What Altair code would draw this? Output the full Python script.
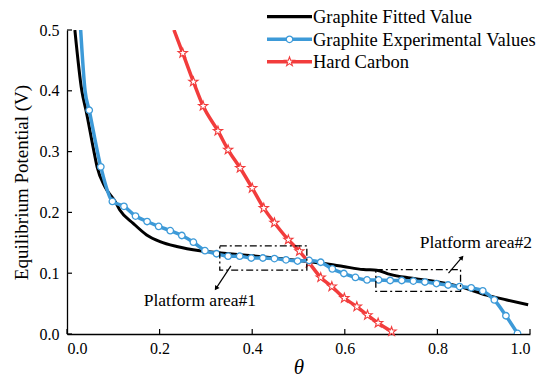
import altair as alt
import pandas as pd

# ---- data ----
fit_x = [0.017, 0.032, 0.041, 0.059, 0.065, 0.082, 0.104, 0.114, 0.143, 0.172, 0.201, 0.237,
         0.287, 0.338, 0.438, 0.500, 0.554, 0.597, 0.640, 0.669, 0.698, 0.741, 0.798, 0.849,
         0.906, 0.950, 0.996]
fit_y = [0.500, 0.400, 0.368, 0.297, 0.275, 0.242, 0.218, 0.204, 0.182, 0.163, 0.152, 0.144,
         0.137, 0.133, 0.126, 0.121, 0.116, 0.111, 0.106, 0.105, 0.098, 0.092, 0.086, 0.078,
         0.064, 0.056, 0.048]

exp_x = [0.048, 0.073, 0.098, 0.123, 0.148, 0.173, 0.198, 0.223, 0.248, 0.273, 0.298, 0.323,
         0.348, 0.373, 0.398, 0.423, 0.448, 0.473, 0.498, 0.523, 0.548, 0.573, 0.598, 0.623,
         0.648, 0.673, 0.698, 0.723, 0.748, 0.773, 0.798, 0.823, 0.848, 0.873, 0.898, 0.923,
         0.948, 0.973]
exp_y = [0.368, 0.275, 0.218, 0.210, 0.194, 0.185, 0.177, 0.170, 0.162, 0.151, 0.137, 0.132,
         0.128, 0.128, 0.125, 0.125, 0.124, 0.122, 0.120, 0.121, 0.118, 0.107, 0.0995, 0.093,
         0.089, 0.089, 0.088, 0.088, 0.087, 0.0855, 0.083, 0.0806, 0.078, 0.076, 0.071, 0.056,
         0.030, 0.001]
exp_lead_x = [0.0295, 0.039]
exp_lead_y = [0.500, 0.400]

hc_x = [0.250, 0.273, 0.294, 0.326, 0.348, 0.374, 0.400, 0.425, 0.448, 0.478, 0.502, 0.523,
        0.548, 0.572, 0.599, 0.626, 0.649, 0.672, 0.701]
hc_y = [0.462, 0.415, 0.375, 0.334, 0.303, 0.273, 0.240, 0.207, 0.183, 0.155, 0.136, 0.117,
        0.093, 0.078, 0.059, 0.045, 0.031, 0.018, 0.004]
hc_lead_x = [0.231]
hc_lead_y = [0.500]

x_ticks = [0.0, 0.2, 0.4, 0.6, 0.8, 1.0]
y_ticks = [0.0, 0.1, 0.2, 0.3, 0.4, 0.5]

box_x1 = [0.330, 0.667]
box_x2 = [0.518, 0.850]
box_y1 = [0.105, 0.070]
box_y2 = [0.145, 0.106]
arrow_x1 = [0.354, 0.824]
arrow_y1 = [0.112, 0.100]
arrow_x2 = [0.322, 0.853]
arrow_y2 = [0.075, 0.126]
arrow_angle = [214, 40]
note_text = ["Platform area#1", "Platform area#2"]
note_x = [0.287, 0.883]
note_y = [0.054, 0.150]

legend_labels = ["Graphite Fitted Value", "Graphite Experimental Values", "Hard Carbon"]

BLUE = "#3d9ad8"
RED = "#f23c3c"
FONT = "'Times New Roman', 'Liberation Serif', 'DejaVu Serif', serif"
W, H = 463, 304
STAR = ("M0,-1L0.235,-0.324L0.951,-0.309L0.38,0.124L0.588,0.809L0,0.4L-0.588,0.809"
        "L-0.38,0.124L-0.951,-0.309L-0.235,-0.324Z")

xs = alt.Scale(domain=[0, 1], nice=False)
ys = alt.Scale(domain=[0, 0.5], nice=False)

fit_df = pd.DataFrame({"x": fit_x, "y": fit_y})
exp_df = pd.DataFrame({"x": exp_x, "y": exp_y})
exp_line_df = pd.DataFrame({"x": exp_lead_x + exp_x, "y": exp_lead_y + exp_y})
hc_df = pd.DataFrame({"x": hc_x, "y": hc_y})
hc_line_df = pd.DataFrame({"x": hc_lead_x + hc_x, "y": hc_lead_y + hc_y})

X = alt.X("x:Q", scale=xs, title="θ",
          axis=alt.Axis(values=x_ticks, format=".1f", ticks=False, grid=False,
                        labelPadding=6, labelFont=FONT, labelFontSize=16, labelColor="black",
                        domainColor="black", domainWidth=1.3,
                        titleFontStyle="italic", titleFontSize=21, titleColor="black",
                        titlePadding=0, titleFont=FONT, titleFontWeight="normal"))
Y = alt.Y("y:Q", scale=ys, title="Equilibrium Potential (V)",
          axis=alt.Axis(values=y_ticks, format=".1f", ticks=False, grid=False,
                        labelPadding=8, labelFont=FONT, labelFontSize=16, labelColor="black",
                        domainColor="black", domainWidth=1.3,
                        titleFontSize=19, titlePadding=8, titleColor="black",
                        titleFont=FONT, titleFontWeight="normal"))

fit_line = alt.Chart(fit_df).mark_line(color="black", strokeWidth=3, interpolate="monotone",
                                       clip=True).encode(x=X, y=Y)
exp_line = alt.Chart(exp_line_df).mark_line(color=BLUE, strokeWidth=3.5, interpolate="monotone",
                                            clip=True).encode(x="x:Q", y="y:Q")
exp_pts = alt.Chart(exp_df).mark_point(shape="circle", size=42, filled=True, fill="white",
                                       stroke=BLUE, strokeWidth=1.3, opacity=1,
                                       clip=True).encode(x="x:Q", y="y:Q")
hc_line = alt.Chart(hc_line_df).mark_line(color=RED, strokeWidth=3.5, interpolate="monotone",
                                          clip=True).encode(x="x:Q", y="y:Q")
hc_pts = alt.Chart(hc_df).mark_point(shape=STAR, size=95, filled=True, fill="white", stroke=RED,
                                     strokeWidth=1.1, opacity=1).encode(x="x:Q", y="y:Q")

# inward ticks
xt_df = pd.DataFrame({"x": x_ticks})
yt_df = pd.DataFrame({"y": y_ticks})
x_tick_marks = alt.Chart(xt_df).mark_rule(color="black", strokeWidth=1.2).encode(
    x="x:Q", y=alt.value(H), y2=alt.value(H - 5))
y_tick_marks = alt.Chart(yt_df).mark_rule(color="black", strokeWidth=1.2).encode(
    y="y:Q", x=alt.value(0), x2=alt.value(5))

ann_df = pd.DataFrame({"x1": box_x1, "x2": box_x2, "y1": box_y1, "y2": box_y2})
boxes = alt.Chart(ann_df).mark_rect(fill=None, filled=False, stroke="black", strokeWidth=1.3,
                                    strokeDash=[7, 3, 2, 3]).encode(
    x="x1:Q", x2="x2:Q", y="y1:Q", y2="y2:Q")

arr_df = pd.DataFrame({"x1": arrow_x1, "y1": arrow_y1, "x2": arrow_x2, "y2": arrow_y2,
                       "ang": arrow_angle})
arrows = alt.Chart(arr_df).mark_rule(color="black", strokeWidth=1.2).encode(
    x="x1:Q", y="y1:Q", x2="x2:Q", y2="y2:Q")
heads = alt.Chart(arr_df).mark_point(shape="triangle-up", size=28, filled=True, color="black",
                                     opacity=1).encode(
    x="x2:Q", y="y2:Q", angle=alt.Angle("ang:Q", scale=None))

note_df = pd.DataFrame({"t": note_text, "x": note_x, "y": note_y})
notes = alt.Chart(note_df).mark_text(font=FONT, fontSize=17.5, color="black",
                                     baseline="middle", align="center").encode(
    x="x:Q", y="y:Q", text="t:N")

# legend
leg_rows = [-13.3, 9.3, 31.7]
leg_colors = ["black", BLUE, RED]
legend_layers = []
for i, (lab, col) in enumerate(zip(legend_labels, leg_colors)):
    ldf = pd.DataFrame({"t": [lab]})
    legend_layers.append(alt.Chart(ldf).mark_rule(color=col, strokeWidth=3.5 if i else 3.2).encode(
        x=alt.value(200), x2=alt.value(245), y=alt.value(leg_rows[i])))
    legend_layers.append(alt.Chart(ldf).mark_text(font=FONT, fontSize=18.5, align="left",
                                                  baseline="middle", color="black").encode(
        x=alt.value(246), y=alt.value(leg_rows[i] + 0.5), text="t:N"))
    if i == 1:
        legend_layers.append(alt.Chart(ldf).mark_point(shape="circle", size=42, filled=True,
                                                       fill="white", stroke=BLUE, strokeWidth=1.3,
                                                       opacity=1).encode(
            x=alt.value(222.5), y=alt.value(leg_rows[i])))
    if i == 2:
        legend_layers.append(alt.Chart(ldf).mark_point(
            shape=STAR, size=95, filled=True, fill="white", stroke=RED, strokeWidth=1.1,
            opacity=1).encode(x=alt.value(222.5), y=alt.value(leg_rows[i])))

chart = alt.layer(
    fit_line, hc_line, hc_pts, exp_line, exp_pts, boxes, arrows, heads, notes,
    x_tick_marks, y_tick_marks, *legend_layers
).properties(
    width=W, height=H,
    background="white",
    autosize=alt.AutoSizeParams(type="none"),
    padding={"left": 59, "top": 22, "right": 12, "bottom": 48},
).configure_view(stroke=None)

chart.save("out.html", embed_options={"renderer": "svg", "actions": False})
